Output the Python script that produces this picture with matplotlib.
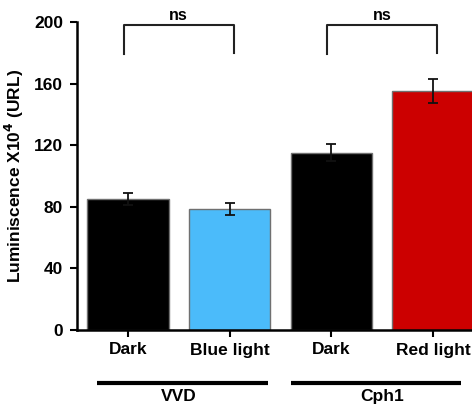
import matplotlib.pyplot as plt
import numpy as np

# Data
conditions = ["Dark", "Blue light", "Dark", "Red light"]
values = [85, 78.5, 115, 155]
errors = [4, 3.9, 5.5, 7.8]
bar_colors = ["#000000", "#4BBBFA", "#000000", "#CC0000"]
groups = ["VVD", "Cph1"]
group_members = [(0, 1), (2, 3)]
sig_labels = ["ns", "ns"]
yticks = [0, 40, 80, 120, 160, 200]

plt.rcParams['font.family'] = ['Liberation Sans', 'DejaVu Sans']
plt.rcParams['font.weight'] = 'bold'

fig = plt.figure(figsize=(4.72, 4.05), dpi=100)
# axes extends past the right edge of the figure (cropped original)
ax = fig.add_axes([77 / 472, 75 / 405, 407 / 472, 308 / 405])

x = np.arange(len(conditions))
ax.bar(x, values, width=0.8, color=bar_colors, edgecolor="#707070", linewidth=1.0, zorder=2)
ax.errorbar(x, values, yerr=errors, fmt="none", ecolor="#111111", elinewidth=1.3,
            capsize=3.5, capthick=1.3, zorder=3)

ax.set_xlim(-0.5, 3.5)
ax.set_ylim(0, 200)
ax.set_yticks(yticks)
ax.set_xticks(x)
ax.set_xticklabels(conditions, fontsize=12.5, fontweight="bold")
ax.tick_params(axis="y", labelsize=12.5, width=1.5, length=5, direction="out", pad=5)
ax.tick_params(axis="x", width=1.5, length=5, direction="out", pad=4)
for lab in ax.get_yticklabels():
    lab.set_fontweight("bold")

for side in ["top", "right"]:
    ax.spines[side].set_visible(False)
for side in ["left", "bottom"]:
    ax.spines[side].set_linewidth(1.8)

ax.set_ylabel("Luminiscence X10$^\\mathbf{4}$ (URL)", fontsize=12.5, fontweight="bold", labelpad=6)

# significance brackets
for (a, b), lab in zip(group_members, sig_labels):
    ax.plot([a - 0.04, a - 0.04, b + 0.04, b + 0.04], [179, 198, 198, 180],
            color="#222222", lw=1.5, clip_on=False, zorder=4)
    ax.text((a + b) / 2, 199.5, lab, ha="center", va="bottom", fontsize=11.5,
            fontweight="bold", clip_on=False)

# group lines below x labels
trans = ax.get_xaxis_transform()
line_pads = [(0.3, 0.38), (0.4, 0.27)]
for (a, b), g, (pl, pr) in zip(group_members, groups, line_pads):
    ax.plot([a - pl, b + pr], [-0.173, -0.173], color="black", lw=3,
            transform=trans, clip_on=False, solid_capstyle="butt")
    ax.text((a + b) / 2, -0.193, g, ha="center", va="top",
            fontsize=12.5, fontweight="bold", transform=trans)

fig.savefig("out.png", dpi=100)
